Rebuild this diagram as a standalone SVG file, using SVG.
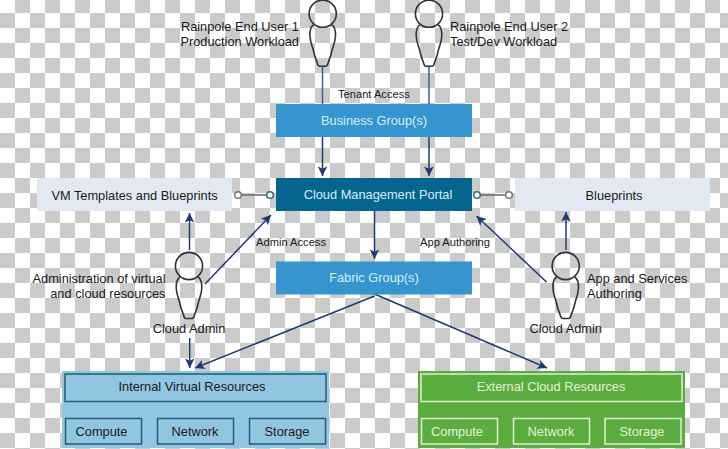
<svg xmlns="http://www.w3.org/2000/svg" width="728" height="449" viewBox="0 0 728 449">
<style>
text{font-family:"Liberation Sans",Arial,sans-serif;font-size:12.8px;fill:#1a1a1a}
.sm{font-size:11.15px}
.lt{fill:#d8ecf6}
.gt{fill:#e2f2d8}
.m{text-anchor:middle}
.e{text-anchor:end}
.body{fill:none;stroke:#333;stroke-width:1.6}
.c{fill:none;stroke:#1f3a73;stroke-width:1.5}
.blk{fill:#3596cf}
.inB{fill:none;stroke:#235a7c;stroke-width:1.5}
.inG{fill:none;stroke:#dff0d2;stroke-width:1.5}
</style>
<defs>
<pattern id="chk" patternUnits="userSpaceOnUse" x="0" y="-2" width="30" height="30">
<rect width="30" height="30" fill="#fff"/>
<rect x="15" y="0" width="15" height="15" fill="#cbcbcb"/>
<rect x="0" y="15" width="15" height="15" fill="#cbcbcb"/>
</pattern>
<marker id="a" viewBox="0 0 10 10" refX="10" refY="5" markerWidth="6.4" markerHeight="6.4" orient="auto" markerUnits="strokeWidth"><path d="M0 0L10 5L0 10L2.5 5Z" fill="#1f3a73"/></marker>
<g id="person"><circle cx="0" cy="0" r="13.6" fill="none" stroke="#333" stroke-width="1.6"/><path class="body" d="M-9 11C-12 13-13 17-12.8 22C-12.5 29-10 33-9 38C-8 43-6.5 46-5.5 49C-5 51-4 52.500-3 52.500L3 52.500C4 52.500 5 51 5.500 49C6.500 46 8 43 9 38C10 33 12.500 29 12.800 22C13 17 12 13 9 11"/></g>
</defs>
<rect id="background" width="728" height="449" fill="url(#chk)"/>
<g id="connectors">
<path d="M322.5 67V104M429 67V104" fill="none" stroke="#3f5f93" stroke-width="1.5"/>
<path class="c" d="M322.5 137V176" marker-end="url(#a)"/>
<path class="c" d="M429 137V176" marker-end="url(#a)"/>
<path class="c" d="M374.5 211V259" marker-end="url(#a)"/>
<path class="c" d="M189.5 250V213" marker-end="url(#a)"/>
<path class="c" d="M205 284L271 215" marker-end="url(#a)"/>
<path class="c" d="M546.5 282L476.5 216" marker-end="url(#a)"/>
<path class="c" d="M566 250V212" marker-end="url(#a)"/>
<path class="c" d="M189.7 338V368" marker-end="url(#a)"/>
<path class="c" d="M374.500 296L195 368" marker-end="url(#a)"/>
<path class="c" d="M374.500 294L547 368" marker-end="url(#a)"/>
<path d="M241.500 195H267M480 195H506" fill="none" stroke="#666" stroke-width="1.5"/>
<circle cx="238" cy="195" r="3.3" fill="#fff" stroke="#777" stroke-width="1.5"/>
<circle cx="270" cy="195" r="3.3" fill="#fff" stroke="#35687c" stroke-width="1.5"/>
<circle cx="477" cy="195" r="3.3" fill="#fff" stroke="#35687c" stroke-width="1.5"/>
<circle cx="509" cy="195" r="3.3" fill="#fff" stroke="#777" stroke-width="1.5"/>
</g>
<g id="user1"><use href="#person" x="322.7" y="13.7"/><text class="e" x="299" y="31">Rainpole End User 1</text><text class="e" x="299" y="46">Production Workload</text></g>
<g id="user2"><use href="#person" x="429" y="13.7"/><text x="450" y="31">Rainpole End User 2</text><text x="450" y="46">Test/Dev Workload</text></g>
<text class="sm" x="338" y="98">Tenant Access</text>
<text class="sm" x="256" y="246">Admin Access</text>
<text class="sm" x="420" y="246">App Authoring</text>
<g id="business"><rect class="blk" x="276" y="104" width="196" height="33"/><text class="m lt" x="374" y="125">Business Group(s)</text></g>
<g id="portal"><rect x="276" y="178" width="196" height="33" fill="#04668f"/><text class="m lt" x="378" y="199">Cloud Management Portal</text></g>
<g id="fabric"><rect class="blk" x="276" y="261.500" width="196" height="33"/><text class="m lt" x="374" y="282">Fabric Group(s)</text></g>
<g id="vm"><rect x="37" y="178" width="195" height="33" fill="#e2e9f3"/><text class="m" x="134.500" y="200">VM Templates and Blueprints</text></g>
<g id="blueprints"><rect x="515" y="178" width="195" height="33" fill="#e2e9f3"/><text class="m" x="614" y="200">Blueprints</text></g>
<g id="admin1"><use href="#person" x="189" y="266"/><text class="e" x="165.500" y="283">Administration of virtual</text><text class="e" x="165.500" y="298">and cloud resources</text><text class="m" x="189" y="333">Cloud Admin</text></g>
<g id="admin2"><use href="#person" x="565.700" y="266"/><text x="587" y="283">App and Services</text><text x="587" y="298">Authoring</text><text class="m" x="565.700" y="333">Cloud Admin</text></g>
<g id="internal"><rect x="62" y="371" width="267" height="77" fill="#91c6e0"/>
<rect class="inB" x="65" y="374" width="261" height="27.500"/><text class="m" x="192" y="391">Internal Virtual Resources</text>
<rect class="inB" x="65.500" y="418.500" width="76" height="25.500"/><text class="m" x="101.500" y="436">Compute</text>
<rect class="inB" x="157.500" y="418.500" width="76" height="25.500"/><text class="m" x="195" y="436">Network</text>
<rect class="inB" x="249.500" y="418.500" width="76" height="25.500"/><text class="m" x="287" y="436">Storage</text></g>
<g id="external"><rect x="418" y="371" width="267" height="77" fill="#5cad3f"/>
<rect class="inG" x="421" y="374" width="261" height="27.500"/><text class="m gt" x="551" y="391">External Cloud Resources</text>
<rect class="inG" x="421.500" y="418.500" width="76" height="25.500"/><text class="m gt" x="457" y="436">Compute</text>
<rect class="inG" x="513.500" y="418.500" width="76" height="25.500"/><text class="m gt" x="551" y="436">Network</text>
<rect class="inG" x="605" y="418.500" width="76" height="25.500"/><text class="m gt" x="642" y="436">Storage</text></g>
</svg>
